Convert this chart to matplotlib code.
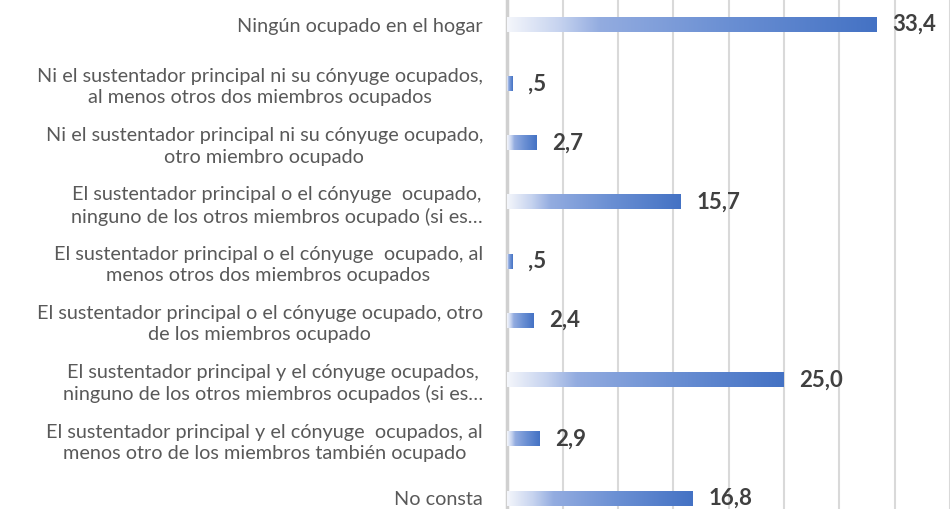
import numpy as np
import matplotlib
matplotlib.use("Agg")
import matplotlib.pyplot as plt
from matplotlib.colors import LinearSegmentedColormap

# categories (top to bottom) and their values
categories = [
    "Ningún ocupado en el hogar",
    "Ni el sustentador principal ni su cónyuge ocupados,\nal menos otros dos miembros ocupados",
    "Ni el sustentador principal ni su cónyuge ocupado,\notro miembro ocupado",
    "El sustentador principal o el cónyuge  ocupado,\nninguno de los otros miembros ocupado (si es…",
    "El sustentador principal o el cónyuge  ocupado, al\nmenos otros dos miembros ocupados",
    "El sustentador principal o el cónyuge ocupado, otro\nde los miembros ocupado",
    "El sustentador principal y el cónyuge ocupados,\nninguno de los otros miembros ocupados (si es…",
    "El sustentador principal y el cónyuge  ocupados, al\nmenos otro de los miembros también ocupado",
    "No consta",
]
values = [33.4, 0.5, 2.7, 15.7, 0.5, 2.4, 25.0, 2.9, 16.8]
value_labels = ["33,4", ",5", "2,7", "15,7", ",5", "2,4", "25,0", "2,9", "16,8"]

plt.rcParams['font.family'] = ['Lato', 'DejaVu Sans']

fig = plt.figure(figsize=(9.5, 5.09), dpi=100)
ax = fig.add_axes([0.534, 0.0, 0.466, 1.0])

ypos = np.arange(len(values))
bar_h = 0.245

# gradient white -> blue along each bar
cmap = LinearSegmentedColormap.from_list(
    "grad", [(0.0, "#f4f6fb"), (0.14, "#c6d3ef"), (0.25, "#93ace0"),
             (0.6, "#6a8fd3"), (1.0, "#4472C4")])
grad = np.linspace(0, 1, 256).reshape(1, -1)

bars = ax.barh(ypos, values, height=bar_h, color="none", zorder=2)
for b, v in zip(bars, values):
    y0 = b.get_y()
    ax.imshow(grad, cmap=cmap, aspect="auto", zorder=3,
              extent=[0, v, y0 + bar_h, y0], interpolation="bilinear")

for y, v, lab in zip(ypos, values, value_labels):
    ax.annotate(lab, (v, y), xytext=(11, 0), textcoords="offset points",
                va="center", ha="left", fontsize=16, fontweight="bold",
                color="#404040", zorder=4)

ax.set_xlim(0, 40)
ax.set_ylim(8.18, -0.414)
ax.set_xticks(np.arange(0, 41, 5))
ax.xaxis.grid(True, color="#d9d9d9", linewidth=1.5, zorder=0)
ax.set_axisbelow(True)
ax.tick_params(axis="x", bottom=False, labelbottom=False)
ax.tick_params(axis="y", left=False, pad=14)

ax.set_yticks(ypos)
ax.set_yticklabels(categories, fontsize=14.3, color="#595959")
for t in ax.get_yticklabels():
    t.set_multialignment("center")
    t.set_linespacing(1.3)

for s in ["top", "right", "bottom"]:
    ax.spines[s].set_visible(False)
ax.spines["left"].set_color("#d0d0d0")
ax.spines["left"].set_linewidth(2.5)

fig.savefig("out.png", dpi=100)
